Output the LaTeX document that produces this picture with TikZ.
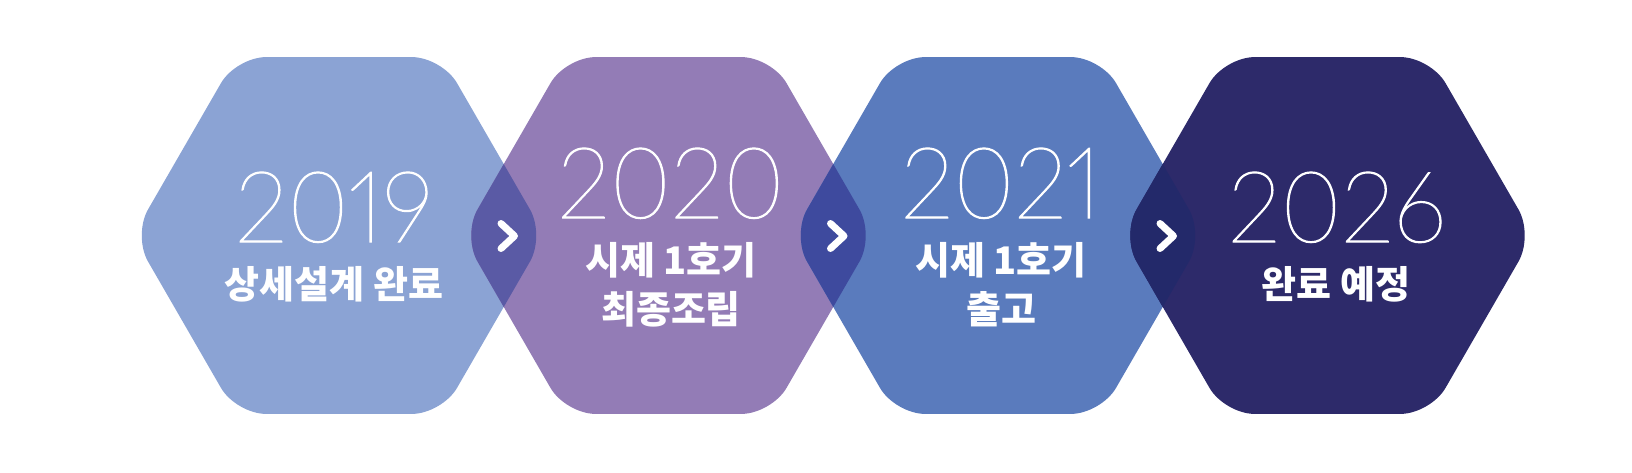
\documentclass[tikz,border=0pt]{standalone}
\usepackage{fontspec}
\IfFontExistsTF{Lato Thin}{\newfontfamily\yearfont[Numbers=Proportional,FakeBold=1.2,FakeStretch=0.96]{Lato Thin}}{%
  \IfFontExistsTF{Fira Sans Light}{\newfontfamily\yearfont[Numbers=Proportional]{Fira Sans Light}}{%
    \newfontfamily\yearfont[Numbers=Proportional]{Fira Sans}}}
\IfFontExistsTF{Noto Sans CJK KR Black}{\newfontfamily\kofont{Noto Sans CJK KR Black}}{%
  \newfontfamily\kofont[UprightFeatures={FakeBold=1}]{Noto Sans CJK KR Bold}}
\definecolor{hexone}{RGB}{139,163,212}
\definecolor{hextwo}{RGB}{147,124,182}
\definecolor{hexthree}{RGB}{90,123,189}
\definecolor{hexfour}{RGB}{45,42,106}
\definecolor{lapone}{RGB}{90,90,165}
\definecolor{laptwo}{RGB}{62,74,158}
\definecolor{lapthree}{RGB}{35,41,106}
\newcommand\hexpath[1]{([xshift=-206pt]#1) -- ++(60:206) -- ++(0:206) -- ++(-60:206) -- ++(-120:206) -- ++(180:206) -- cycle}
\begin{document}
\begin{tikzpicture}[x=1pt,y=-1pt,
        yr/.style={font=\yearfont\fontsize{99}{99}\selectfont, text=white, anchor=base, inner sep=0},
        lbl/.style={font=\kofont\fontsize{38}{38}\selectfont, text=white, anchor=base, inner sep=0},
        chev/.style={draw=white, line width=7pt, line cap=round, line join=round}]
    \useasboundingbox (0,0) rectangle (1632,472);
    \coordinate (h1) at (339,235.5);
    \coordinate (h2) at (668.5,235.5);
    \coordinate (h3) at (998,235.5);
    \coordinate (h4) at (1327.5,235.5);
    % hexagons
    \fill[hexone, rounded corners=30pt] \hexpath{h1};
    \fill[hextwo, rounded corners=30pt] \hexpath{h2};
    \fill[hexthree, rounded corners=30pt] \hexpath{h3};
    \fill[hexfour, rounded corners=30pt] \hexpath{h4};
    % overlaps
    \begin{scope}
        \clip[rounded corners=30pt] \hexpath{h1};
        \fill[lapone, rounded corners=30pt] \hexpath{h2};
    \end{scope}
    \begin{scope}
        \clip[rounded corners=30pt] \hexpath{h2};
        \fill[laptwo, rounded corners=30pt] \hexpath{h3};
    \end{scope}
    \begin{scope}
        \clip[rounded corners=30pt] \hexpath{h3};
        \fill[lapthree, rounded corners=30pt] \hexpath{h4};
    \end{scope}
    % chevrons
    \foreach \k/\kx in {k1/507.5, k2/837, k3/1166.5} {
        \coordinate (\k) at (\kx,236);
        \draw[chev] (\k) ++(-6.5,-12.5) -- ++(13.5,12.5) -- ++(-13.5,12.5);
    }
    % texts
    \node[yr] (y1) at (334,242) {2019};
    \node[lbl] (t1) at (334,298) {상세설계 완료};
    \node[yr] (y2) at (671,218) {2020};
    \node[lbl] (t2) at (671,274) {시제 1호기};
    \node[lbl] (s2) at (671,323) {최종조립};
    \node[yr] (y3) at (1001,218) {2021};
    \node[lbl] (t3) at (1001,274) {시제 1호기};
    \node[lbl] (s3) at (1001,323) {출고};
    \node[yr] (y4) at (1337,242) {2026};
    \node[lbl] (t4) at (1336,298) {완료 예정};
\end{tikzpicture}
\end{document}
